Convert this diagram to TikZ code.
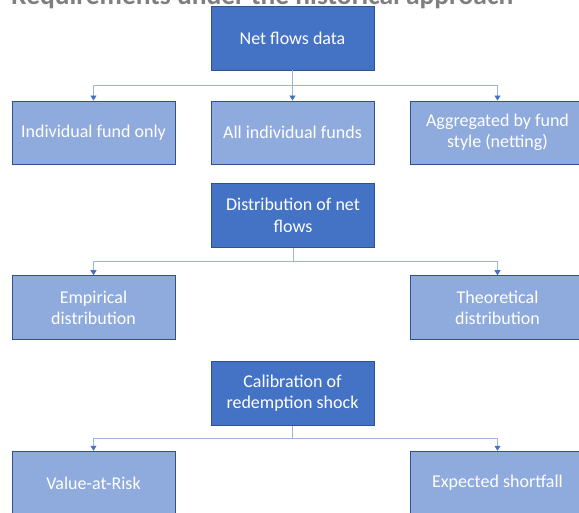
\documentclass[tikz,border=0pt]{standalone}
\usepackage{fontspec}
\setmainfont{Carlito}
\usetikzlibrary{arrows.meta,positioning}
\definecolor{darkbox}{HTML}{4472C4}
\definecolor{lightbox}{HTML}{8FAADC}
\definecolor{edgeblue}{HTML}{2F528F}
\definecolor{connblue}{HTML}{9BB4E0}
\definecolor{tipblue}{HTML}{4472C4}
\definecolor{titlegray}{HTML}{7F7F7F}
\tikzset{
  base/.style={draw=edgeblue, line width=0.9pt, text=white, align=center, inner sep=0pt,
    font=\fontsize{18}{21.3}\selectfont},
  parentbox/.style={base, fill=darkbox},
  childbox/.style={base, fill=lightbox},
  conn/.style={draw=connblue, line width=0.9pt, -{Triangle[width=6pt,length=5pt,color=tipblue]}},
  connplain/.style={draw=connblue, line width=0.9pt},
}
\begin{document}
\begin{tikzpicture}[x=1pt,y=-1pt]
\useasboundingbox (0,0) rectangle (579,513);
\clip (0,0) rectangle (579,513);
% title (cut off at top)
\node[anchor=base west, inner sep=0pt, text=titlegray, font=\bfseries\fontsize{24}{28}\selectfont] (title) at (11,5) {\resizebox{502pt}{!}{Requirements under the historical approach}};
% row 1
\node[parentbox, minimum width=163pt, minimum height=64pt] (net) at (292.5,38) {Net flows data};
% row 2
\node[childbox, minimum width=163pt, minimum height=63pt] (ind) at (93.5,132.5) {Individual fund only};
\node[childbox, minimum width=163pt, minimum height=63pt] (all) at (292.5,132.5) {All individual funds};
\node[childbox, minimum width=175pt, minimum height=63pt] (agg) at (497.5,132.5) {Aggregated by fund\\style (netting)};
% row 3
\node[parentbox, minimum width=163pt, minimum height=64pt] (dist) at (293,215.4) {Distribution of net\\flows};
\node[childbox, minimum width=163pt, minimum height=63.6pt] (emp) at (93.5,307.5) {Empirical\\distribution};
\node[childbox, minimum width=175pt, minimum height=63.6pt] (theo) at (497.5,307.5) {Theoretical\\distribution};
% row 4
\node[parentbox, minimum width=163pt, minimum height=63.6pt] (cal) at (292.5,393.5) {Calibration of\\redemption shock};
\node[childbox, minimum width=163pt, minimum height=63.6pt] (var) at (93.5,483) {Value-at-Risk};
\node[childbox, minimum width=175pt, minimum height=63.6pt] (es) at (497.5,483) {Expected shortfall};
% connectors
\coordinate (j1) at (net.south |- 0,85);
\coordinate (j2) at (dist.south |- 0,261);
\coordinate (j3) at (cal.south |- 0,438);
\draw[connplain] (net.south) -- (j1);
\draw[conn] (j1) -| (ind.north);
\draw[conn] (j1) -- (all.north);
\draw[conn] (j1) -| (agg.north);
\draw[connplain] (dist.south) -- (j2);
\draw[conn] (j2) -| (emp.north);
\draw[conn] (j2) -| (theo.north);
\draw[connplain] (cal.south) -- (j3);
\draw[conn] (j3) -| (var.north);
\draw[conn] (j3) -| (es.north);
\end{tikzpicture}
\end{document}
